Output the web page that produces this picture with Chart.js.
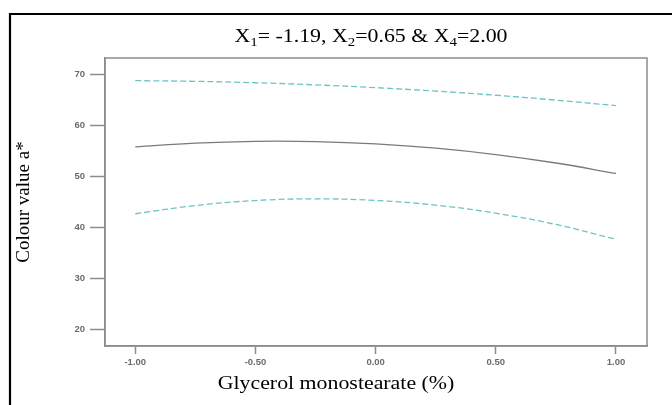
<!DOCTYPE html>
<html>
<head>
<meta charset="utf-8">
<script src="https://cdn.jsdelivr.net/npm/chart.js@4.4.1/dist/chart.umd.min.js"></script>
<style>
  html, body { margin: 0; padding: 0; background: #fff; }
  #wrap { width: 672px; height: 405px; }
</style>
</head>
<body>
<div id="wrap"><canvas id="ChartCanvas"></canvas></div>
<script>
// values
const xValues = [-1.00, -0.75, -0.50, -0.25, 0.00, 0.25, 0.50, 0.75, 1.00];
const predicted = [55.7, 56.45, 56.8, 56.75, 56.3, 55.45, 54.2, 52.55, 50.5];
const upperBand = [68.7, 68.56, 68.29, 67.87, 67.33, 66.65, 65.84, 64.88, 63.8];
const lowerBand = [42.6, 44.21, 45.19, 45.53, 45.2, 44.29, 42.71, 40.5, 37.6];
const xTicks = [-1.00, -0.50, 0.00, 0.50, 1.00];
const yTicks = [20, 30, 40, 50, 60, 70];

// title pieces: [text, isSubscript]
const titleParts = [['X', false], ['1', true], ['= -1.19, X', false], ['2', true],
                    ['=0.65 & X', false], ['4', true], ['=2.00', false]];
const xTitle = 'Glycerol monostearate (%)';
const yTitle = 'Colour value a*';

Initialize();

function Initialize()
{
    const toPoints = (ys) => xValues.map((x, i) => ({ x: x, y: ys[i] }));
    const stretch = 1.15; // the source picture is a bit wider than tall

    const framePlugin = {
        id: 'frames',
        beforeDatasetsDraw(chart) {
            // grey box round the plot
            const a = chart.chartArea;
            const c = chart.ctx;
            c.save();
            c.strokeStyle = '#8c8c8c';
            c.lineWidth = 1.5;
            c.strokeRect(a.left, a.top, a.right - a.left, a.bottom - a.top);
            c.restore();
        },
        afterDraw(chart) {
            const c = chart.ctx;
            const a = chart.chartArea;
            c.save();
            // outer black frame (cut off right and bottom)
            c.strokeStyle = '#000';
            c.lineWidth = 2.2;
            c.beginPath();
            c.moveTo(10, chart.height + 5);
            c.lineTo(10, 14);
            c.lineTo(chart.width + 5, 14);
            c.stroke();

            c.fillStyle = '#000';
            c.textBaseline = 'alphabetic';
            c.textAlign = 'left';

            // main title with subscripts
            const bigFont = '19px "Liberation Serif"';
            const subFont = '13px "Liberation Serif"';
            let total = 0;
            titleParts.forEach(p => {
                c.font = p[1] ? subFont : bigFont;
                total += c.measureText(p[0]).width;
            });
            const cx = (a.left + a.right) / 2 - 5;
            c.save();
            c.translate(cx, 42);
            c.scale(stretch, 1);
            let x = -total / 2;
            titleParts.forEach(p => {
                c.font = p[1] ? subFont : bigFont;
                c.fillText(p[0], x, p[1] ? 4 : 0);
                x += c.measureText(p[0]).width;
            });
            c.restore();

            // x axis title, centred on the canvas
            c.save();
            c.font = bigFont;
            c.textAlign = 'center';
            c.translate(chart.width / 2, 389);
            c.scale(stretch, 1);
            c.fillText(xTitle, 0, 0);
            c.restore();

            c.restore();
        }
    };

    const tickFont = { family: 'Liberation Sans', size: 9.5, weight: 'bold' };

    const ctx = document.getElementById('ChartCanvas').getContext('2d');
    new Chart(ctx, {
        type: 'line',
        data: {
            datasets: [
                {
                    label: 'Upper',
                    data: toPoints(upperBand),
                    borderColor: '#6cc4c4',
                    borderWidth: 1.3,
                    borderDash: [6, 3],
                    pointRadius: 0,
                    tension: 0.4,
                    fill: false
                },
                {
                    label: 'Predicted',
                    data: toPoints(predicted),
                    borderColor: '#7a7a7a',
                    borderWidth: 1.3,
                    pointRadius: 0,
                    tension: 0.4,
                    fill: false
                },
                {
                    label: 'Lower',
                    data: toPoints(lowerBand),
                    borderColor: '#6cc4c4',
                    borderWidth: 1.3,
                    borderDash: [6, 3],
                    pointRadius: 0,
                    tension: 0.4,
                    fill: false
                }
            ]
        },
        options: {
            responsive: true,
            maintainAspectRatio: false,
            animation: false,
            layout: { padding: { top: 58, left: 12, right: 25, bottom: 39 } },
            plugins: {
                legend: { display: false },
                tooltip: { enabled: false }
            },
            scales: {
                x: {
                    type: 'linear',
                    min: -1.126,
                    max: 1.129,
                    afterBuildTicks: (s) => { s.ticks = xTicks.map(v => ({ value: v })); },
                    afterFit: (s) => { s.height = 20; },
                    grid: {
                        drawOnChartArea: false,
                        drawTicks: true,
                        tickLength: 8,
                        tickColor: '#8c8c8c',
                        tickWidth: 1.5
                    },
                    border: { display: true, color: '#8c8c8c', width: 1.5 },
                    ticks: {
                        font: tickFont,
                        color: '#6b6b6b',
                        padding: 3,
                        maxRotation: 0,
                        callback: (v) => Number(v).toFixed(2)
                    }
                },
                y: {
                    min: 16.67,
                    max: 73.14,
                    afterBuildTicks: (s) => { s.ticks = yTicks.map(v => ({ value: v })); },
                    afterFit: (s) => { s.width = 93; },
                    grid: {
                        drawOnChartArea: false,
                        drawTicks: true,
                        tickLength: 15,
                        tickColor: '#8c8c8c',
                        tickWidth: 1.5
                    },
                    border: { display: true, color: '#8c8c8c', width: 1.5 },
                    ticks: {
                        font: tickFont,
                        color: '#6b6b6b',
                        padding: 5
                    },
                    title: {
                        display: true,
                        text: yTitle,
                        color: '#000',
                        font: { family: 'Liberation Serif', size: 19, weight: 'normal' },
                        padding: { top: 1, bottom: 0 }
                    }
                }
            }
        },
        plugins: [framePlugin]
    });
}
</script>
</body>
</html>
